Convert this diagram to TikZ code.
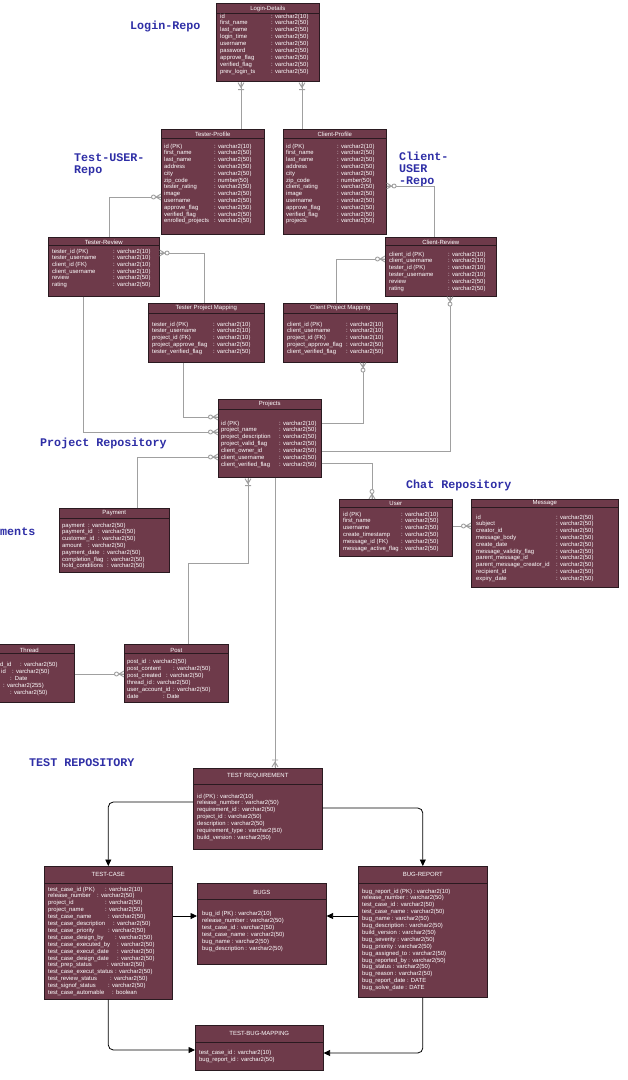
\documentclass[tikz,border=0pt]{standalone}
\usepackage{fontspec}
\setmainfont{Liberation Sans}
\newfontfamily\repofamily{Liberation Mono}
\usetikzlibrary{calc,arrows.meta}
\definecolor{tblfill}{HTML}{6E3A4A}
\definecolor{tblline}{HTML}{2A1A20}
\definecolor{lnkgray}{HTML}{A0A0A0}
\definecolor{repoblue}{HTML}{2E2EA6}
\tikzset{
 tbl/.style={draw=tblline, fill=tblfill, line width=0.6pt, inner sep=0pt, anchor=north west, rectangle},
 ttl/.style={text=white, font=\fontsize{6}{7}\selectfont, inner sep=0pt},
 row/.style={text=white, font=\fontsize{5.9}{6.9}\selectfont, inner sep=0pt, anchor=base west},
 sepl/.style={draw=tblline, line width=0.6pt},
 lnk/.style={draw=lnkgray, line width=0.9pt},
 arr/.style={draw=black, line width=0.8pt, rounded corners=5pt, -{Triangle[length=6.5pt,width=6pt]}},
 repo/.style={text=repoblue, font=\repofamily\bfseries\fontsize{11.7}{12}\selectfont, inner sep=0pt, anchor=base west},
 pics/zmany/.style={code={
   \draw[lnk] (0,-3) -- (-5,0) -- (0,3) (0,0) -- (-5,0);
   \draw[lnk, fill=white] (-7.5,0) circle[radius=2];
 }},
 pics/omany/.style={code={
   \draw[lnk] (-1,-3) -- (-6,0) -- (-1,3) (-1,0) -- (-6,0) (-8,-3) -- (-8,3);
 }},
}
% #1 name #2 x1 #3 y1 #4 x2 #5 y2 #6 title #7 title offset #8 separator offset
\newcommand\erbox[8]{%
  \node[tbl, minimum width=#4-(#2), minimum height=#5-(#3)] (#1) at (#2,#3) {};
  \node[ttl] (#1-t) at ($(#1.north)+(0,#7)$) {#6};
  \draw[sepl] ($(#1.north west)+(0,#8)$) -- ($(#1.north east)+(0,#8)$);
}
% #1 box #2 name xoff #3 type xoff #4 first baseline #5 dy #6 list name/type
\newcommand\erpairs[6]{%
  \foreach \nm/\ty [count=\k from 0] in {#6} {
    \node[row] (#1-n\k) at ($(#1.north west)+(#2,#4+\k*#5)$) {\nm};
    \node[row] (#1-v\k) at ($(#1.north west)+(#3,#4+\k*#5)$) {: \ty};
  }
}
% #1 box #2 name xoff #3 first baseline #4 dy #5 list name/typexoff/type
\newcommand\ertriples[5]{%
  \foreach \nm/\xo/\ty [count=\k from 0] in {#5} {
    \node[row] (#1-n\k) at ($(#1.north west)+(#2,#3+\k*#4)$) {\nm};
    \node[row] (#1-v\k) at ($(#1.north west)+(\xo,#3+\k*#4)$) {: \ty};
  }
}
% #1 box #2 xoff #3 first baseline #4 dy #5 list of lines
\newcommand\erlines[5]{%
  \foreach \nm [count=\k from 0] in {#5} {
    \node[row] (#1-r\k) at ($(#1.north west)+(#2,#3+\k*#4)$) {\nm};
  }
}
\begin{document}
\catcode`\_=12
\begin{tikzpicture}[x=1pt,y=-1pt]
\useasboundingbox (0,0) rectangle (628,1080);
\fill[white] (0,0) rectangle (628,1080);
\clip (0,0) rectangle (628,1080);

% repository labels
\node[repo] (lbl-login) at (130,29) {Login-Repo};
\node[repo] (lbl-test-a) at (74,161) {Test-USER-};
\node[repo] (lbl-test-b) at (74,173) {Repo};
\node[repo] (lbl-client-a) at (399,160) {Client-};
\node[repo] (lbl-client-b) at (399,172) {USER};
\node[repo] (lbl-client-c) at (399,184) {-Repo};
\node[repo] (lbl-proj) at (40,446) {Project Repository};
\node[repo] (lbl-pay) at (0,535) {ments};
\node[repo] (lbl-chat) at (406,488) {Chat Repository};
\node[repo] (lbl-testrep) at (29,766) {TEST REPOSITORY};

% Login-Details
\erbox{login}{216}{3}{319}{81}{Login-Details}{5.5}{10}
\erpairs{login}{4}{55}{15}{6.9}{id/varchar2(10),first_name/varchar2(50),last_name/varchar2(50),login_time/varchar2(50),username/varchar2(50),password/varchar2(50),approve_flag/varchar2(50),verified_flag/varchar2(50),prev_login_ts/varchar2(50)}

% Tester-Profile
\erbox{tp}{161}{129}{264}{234}{Tester-Profile}{5}{9}
\erpairs{tp}{3}{53}{19}{6.8}{id (PK)/varchar2(10),first_name/varchar2(50),last_name/varchar2(50),address/varchar2(50),city/varchar2(50),zip_code/number(50),tester_rating/varchar2(50),image/varchar2(50),username/varchar2(50),approve_flag/varchar2(50),verified_flag/varchar2(50),enrolled_projects/varchar2(50)}

% Client-Profile
\erbox{cp}{283}{129}{386}{234}{Client-Profile}{5}{9}
\erpairs{cp}{3}{54}{19}{6.8}{id (PK)/varchar2(10),first_name/varchar2(50),last_name/varchar2(50),address/varchar2(50),city/varchar2(50),zip_code/number(50),client_rating/varchar2(50),image/varchar2(50),username/varchar2(50),approve_flag/varchar2(50),verified_flag/varchar2(50),projects/varchar2(50)}

% Tester-Review
\erbox{tr}{48}{237}{159}{296}{Tester-Review}{5}{8}
\erpairs{tr}{4}{65}{16}{6.7}{tester_id (PK)/varchar2(10),tester_username/varchar2(10),client_id (FK)/varchar2(10),client_username/varchar2(10),review/varchar2(50),rating/varchar2(50)}

% Client-Review
\erbox{cr}{385}{237}{496}{296}{Client-Review}{5}{8}
\erpairs{cr}{4}{63}{19}{6.8}{client_id (PK)/varchar2(10),client_username/varchar2(10),tester_id (PK)/varchar2(10),tester_username/varchar2(10),review/varchar2(50),rating/varchar2(50)}

% Tester Project Mapping
\erbox{tpm}{148}{303}{264}{362}{Tester Project Mapping}{5}{10}
\erpairs{tpm}{4}{65}{23}{6.8}{tester_id (PK)/varchar2(10),tester_username/varchar2(10),project_id (FK)/varchar2(10),project_approve_flag/varchar2(50),tester_verified_flag/varchar2(50)}

% Client Project Mapping
\erbox{cpm}{283}{303}{397}{362}{Client Project Mapping}{5}{10}
\erpairs{cpm}{4}{63}{23}{6.8}{client_id (PK)/varchar2(10),client_username/varchar2(10),project_id (FK)/varchar2(10),project_approve_flag/varchar2(50),client_verified_flag/varchar2(50)}

% Projects
\erbox{proj}{218}{399}{321}{477}{Projects}{5}{10}
\erpairs{proj}{3}{61}{26}{6.85}{id (PK)/varchar2(10),project_name/varchar2(50),project_description/varchar2(50),project_valid_flag/varchar2(50),client_owner_id/varchar2(50),client_username/varchar2(50),client_verified_flag/varchar2(50)}

% Payment
\erbox{pay}{59}{508}{169}{572}{Payment}{5}{10}
\ertriples{pay}{3}{19}{6.8}{payment/29/varchar2(50),payment_id/39/varchar2(50),customer_id/39/varchar2(50),amount/29/varchar2(50),payment_date/44/varchar2(50),completion_flag/48/varchar2(50),hold_conditions/48/varchar2(50)}

% User
\erbox{user}{339}{499}{452}{556}{User}{4.5}{8}
\erpairs{user}{4}{62}{17}{6.8}{id (PK)/varchar2(10),first_name/varchar2(50),username/varchar2(50),create_timestamp/varchar2(50),message_id (FK)/varchar2(50),message_active_flag/varchar2(50)}

% Message
\erbox{msg}{471}{499}{618}{587}{Message}{4.5}{8}
\erpairs{msg}{5}{85}{20}{6.8}{id/varchar2(50),subject/varchar2(50),creator_id/varchar2(50),message_body/varchar2(50),create_date/varchar2(50),message_validity_flag/varchar2(50),parent_message_id/varchar2(50),parent_message_creator_id/varchar2(50),recipient_id/varchar2(50),expiry_date/varchar2(50)}

% Thread (cut at the left edge)
\erbox{thread}{-16}{644}{74}{702}{Thread}{6}{9}
\node[row] (thread-r0a) at (0,666) {d_id};
\node[row] (thread-r0b) at (20,666) {: varchar2(50)};
\node[row] (thread-r1a) at (1,673) {id};
\node[row] (thread-r1b) at (12,673) {: varchar2(50)};
\node[row] (thread-r2) at (10,680) {:\hspace{3pt}Date};
\node[row] (thread-r3) at (3,687) {: varchar2(255)};
\node[row] (thread-r4) at (10,694) {: varchar2(50)};

% Post
\erbox{post}{124}{644}{228}{702}{Post}{6}{9}
\ertriples{post}{3}{19}{7}{post_id/25/varchar2(50),post_content/49/varchar2(50),post_created/42/varchar2(50),thread_id/29/varchar2(50),user_account_id/49/varchar2(50),date/39/Date}

% TEST REQUIREMENT
\erbox{treq}{193}{768}{322}{849}{TEST REQUIREMENT}{8}{16}
\erlines{treq}{4}{30}{6.9}{id (PK) : varchar2(10),release_number : varchar2(50),requirement_id : varchar2(50),project_id : varchar2(50),description : varchar2(50),requirement_type : varchar2(50),build_version : varchar2(50)}

% TEST-CASE
\erbox{tc}{44}{866}{172}{999}{TEST-CASE}{8}{17}
\ertriples{tc}{4}{25}{6.9}{test_case_id (PK)/61/varchar2(10),release_number/53/varchar2(50),project_id/61/varchar2(50),project_name/61/varchar2(50),test_case_name/64/varchar2(50),test_case_description/69/varchar2(50),test_case_priority/64/varchar2(50),test_case_design_by/71/varchar2(50),test_case_executed_by/73/varchar2(50),test_case_execut_date/73/varchar2(50),test_case_design_date/73/varchar2(50),test_prep_status/63/varchar2(50),test_case_execut_status/71/varchar2(50),test_review_status/66/varchar2(50),test_signof_status/64/varchar2(50),test_case_automable/68/boolean}

% BUGS
\erbox{bugs}{197}{883}{326}{964}{BUGS}{9}{16}
\erlines{bugs}{5}{32}{7}{bug_id (PK) : varchar2(10),release_number : varchar2(50),test_case_id : varchar2(50),test_case_name : varchar2(50),bug_name : varchar2(50),bug_description : varchar2(50)}

% BUG-REPORT
\erbox{br}{358}{866}{487}{997}{BUG-REPORT}{8}{17}
\erlines{br}{4}{27}{6.9}{bug_report_id (PK) : varchar2(10),release_number : varchar2(50),test_case_id : varchar2(50),test_case_name : varchar2(50),bug_name : varchar2(50),bug_description : varchar2(50),build_version : varchar2(50),bug_severity : varchar2(50),bug_priority : varchar2(50),bug_assigned_to : varchar2(50),bug_reported_by : varchar2(50),bug_status : varchar2(50),bug_reason : varchar2(50),bug_report_date : DATE,bug_solve_date : DATE}

% TEST-BUG-MAPPING
\erbox{tbm}{195}{1025}{323}{1070}{TEST-BUG-MAPPING}{8}{17}
\erlines{tbm}{4}{29}{7}{test_case_id : varchar2(10),bug_report_id : varchar2(50)}

% grey relationship connectors
\draw[lnk] (241,0 |- login.south) -- (241,0 |- tp.north);
\pic[rotate=90] at (241,0 |- login.south) {omany};
\draw[lnk] (302,0 |- login.south) -- (302,0 |- cp.north);
\pic[rotate=90] at (302,0 |- login.south) {omany};
\draw[lnk] (109,0 |- tr.north) |- (tp.west |- 0,197);
\pic at (tp.west |- 0,197) {zmany};
\draw[lnk] (cp.east |- 0,186) -| (434,0 |- cr.north);
\pic[rotate=180] at (cp.east |- 0,186) {zmany};
\draw[lnk] (tr.east |- 0,253) -| (204,0 |- tpm.north);
\pic[rotate=180] at (tr.east |- 0,253) {zmany};
\draw[lnk] (cr.west |- 0,259) -| (336,0 |- cpm.north);
\pic at (cr.west |- 0,259) {zmany};
\draw[lnk] (183,0 |- tpm.south) |- (proj.west |- 0,417);
\pic at (proj.west |- 0,417) {zmany};
\draw[lnk] (83,0 |- tr.south) |- (proj.west |- 0,432);
\pic at (proj.west |- 0,432) {zmany};
\draw[lnk] (137,0 |- pay.north) |- (proj.west |- 0,457);
\pic at (proj.west |- 0,457) {zmany};
\draw[lnk] (363,0 |- cpm.south) |- (proj.east |- 0,423);
\pic[rotate=90] at (363,0 |- cpm.south) {zmany};
\draw[lnk] (450,0 |- cr.south) |- (proj.east |- 0,451);
\pic[rotate=90] at (450,0 |- cr.south) {zmany};
\draw[lnk] (proj.east |- 0,463) -| (372,0 |- user.north);
\pic[rotate=-90] at (372,0 |- user.north) {zmany};
\draw[lnk] (user.east |- 0,526) -- (msg.west |- 0,526);
\pic at (msg.west |- 0,526) {zmany};
\draw[lnk] (188,0 |- post.north) |- (248,563) -- (248,0 |- proj.south);
\pic[rotate=90] at (248,0 |- proj.south) {omany};
\draw[lnk] (thread.east |- 0,674) -- (post.west |- 0,674);
\pic at (post.west |- 0,674) {zmany};
\draw[lnk] (275,0 |- proj.south) -- (275,0 |- treq.north);
\pic[rotate=-90] at (275,0 |- treq.north) {omany};

% black arrows of the test repository
\draw[arr] (treq.west |- 0,802) -| (tc.north);
\draw[arr] (treq.east |- 0,808) -| (br.north);
\draw[arr] (tc.east |- 0,916) -- (bugs.west |- 0,916);
\draw[arr] (br.west |- 0,916) -- (bugs.east |- 0,916);
\draw[arr] (tc.south) |- (tbm.west |- 0,1050);
\draw[arr] (br.south) |- (tbm.east |- 0,1053);
\end{tikzpicture}
\end{document}
